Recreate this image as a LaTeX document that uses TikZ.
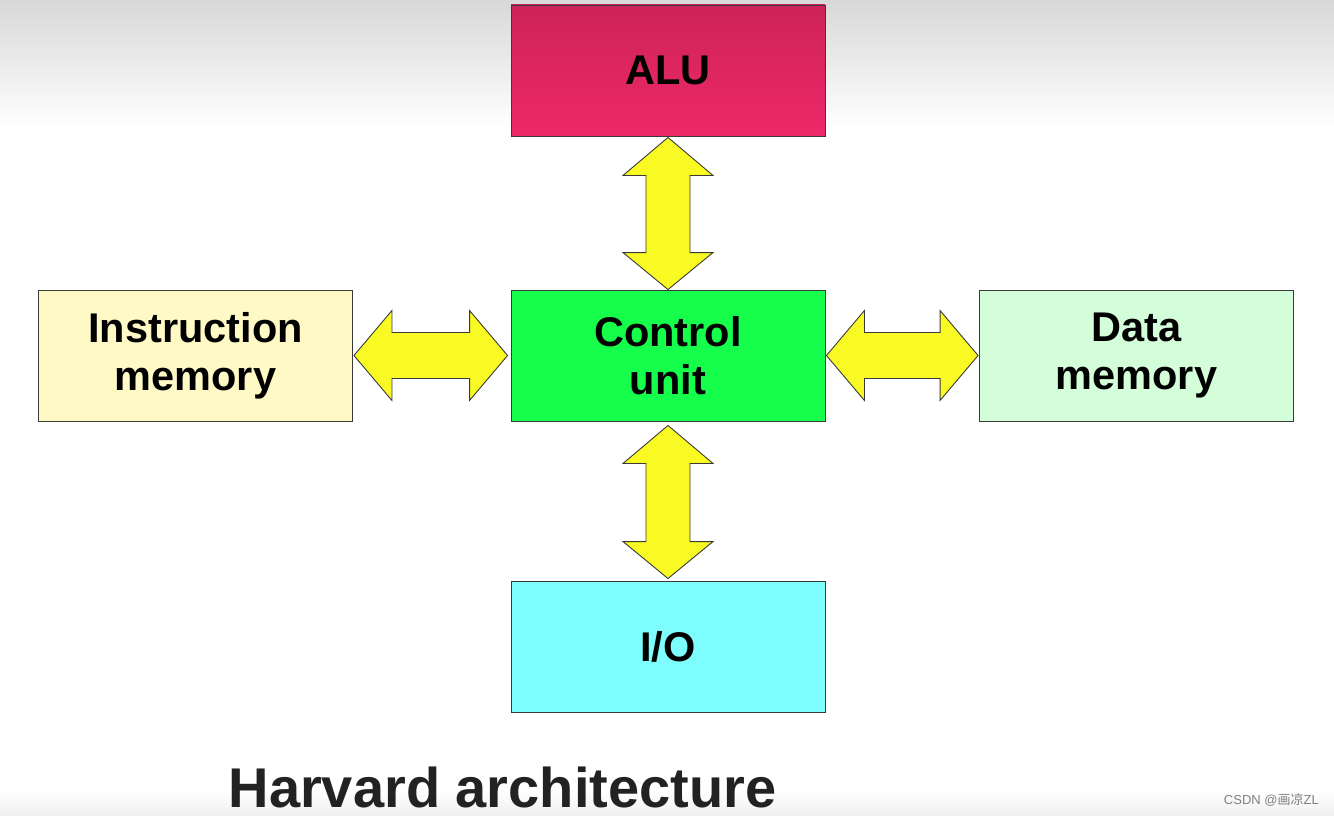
\documentclass[tikz,border=0pt]{standalone}
\usepackage{fontspec}
\setmainfont{Liberation Sans}
\newfontfamily\cjkfont{Noto Sans CJK SC}
\usetikzlibrary{calc}
\definecolor{alutop}{HTML}{CD2358}
\definecolor{alubot}{HTML}{EE2869}
\definecolor{cugreen}{HTML}{14FE4B}
\definecolor{imyellow}{HTML}{FFF9C6}
\definecolor{dmgreen}{HTML}{D4FDDA}
\definecolor{iocyan}{HTML}{7DFDFD}
\definecolor{arrowyellow}{HTML}{F9F923}
\definecolor{edge}{HTML}{3A3A3A}
\definecolor{bggray}{HTML}{D8D8D8}
\definecolor{titlegray}{HTML}{222222}
\tikzset{
  unitbox/.style={draw=edge, line width=0.9pt, minimum width=314pt, minimum height=131pt,
    inner sep=0pt, align=center, font=\fontsize{41.5}{48}\selectfont\bfseries, text=black},
  fatarrow/.style={draw=edge, line width=0.9pt, fill=arrowyellow, line join=miter},
}
\begin{document}
\begin{tikzpicture}[x=1pt,y=-1pt]
\useasboundingbox (0,0) rectangle (1334,816);
\fill[white] (0,0) rectangle (1334,816);
\shade[top color=bggray, bottom color=white] (0,0) rectangle (1334,128);
\shade[top color=white, bottom color=black!6] (0,790) rectangle (1334,816);

\node[unitbox, top color=alutop, bottom color=alubot] (alu) at (668,70.5) {ALU};
\node[unitbox, fill=cugreen] (cu) at (668,355.5) {Control\\unit};
\node[unitbox, fill=imyellow] (im) at (195.5,355.5) {Instruction\\memory};
\node[unitbox, fill=dmgreen] (dm) at (1136.5,355.5) {Data\\memory};
\node[unitbox, fill=iocyan] (io) at (668,646.5) {I/O};

% vertical arrow ALU <-> Control unit
\coordinate (a1) at ($(alu.south)+(0,1)$);
\coordinate (b1) at ($(cu.north)+(0,0)$);
\draw[fatarrow] (a1) -- ($(a1)+(45,38)$) -- ($(a1)+(22,38)$) -- ($(b1)+(22,-37)$) -- ($(b1)+(45,-37)$)
  -- (b1) -- ($(b1)+(-45,-37)$) -- ($(b1)+(-22,-37)$) -- ($(a1)+(-22,38)$) -- ($(a1)+(-45,38)$) -- cycle;

% vertical arrow Control unit <-> I/O
\coordinate (a2) at ($(cu.south)+(0,4)$);
\coordinate (b2) at ($(io.north)+(0,-2)$);
\draw[fatarrow] (a2) -- ($(a2)+(45,38)$) -- ($(a2)+(22,38)$) -- ($(b2)+(22,-37)$) -- ($(b2)+(45,-37)$)
  -- (b2) -- ($(b2)+(-45,-37)$) -- ($(b2)+(-22,-37)$) -- ($(a2)+(-22,38)$) -- ($(a2)+(-45,38)$) -- cycle;

% horizontal arrow Instruction memory <-> Control unit
\coordinate (a3) at ($(im.east)+(1,0)$);
\coordinate (b3) at ($(cu.west)+(-3,0)$);
\draw[fatarrow] (a3) -- ($(a3)+(38,-45)$) -- ($(a3)+(38,-23)$) -- ($(b3)+(-38,-23)$) -- ($(b3)+(-38,-45)$)
  -- (b3) -- ($(b3)+(-38,45)$) -- ($(b3)+(-38,23)$) -- ($(a3)+(38,23)$) -- ($(a3)+(38,45)$) -- cycle;

% horizontal arrow Control unit <-> Data memory
\coordinate (a4) at ($(cu.east)+(1,0)$);
\coordinate (b4) at ($(dm.west)+(-1,0)$);
\draw[fatarrow] (a4) -- ($(a4)+(38,-45)$) -- ($(a4)+(38,-23)$) -- ($(b4)+(-38,-23)$) -- ($(b4)+(-38,-45)$)
  -- (b4) -- ($(b4)+(-38,45)$) -- ($(b4)+(-38,23)$) -- ($(a4)+(38,23)$) -- ($(a4)+(38,45)$) -- cycle;

\node[font=\fontsize{56}{62}\selectfont\bfseries, text=titlegray, inner sep=0pt, anchor=base] (title) at (502.5,807) {Harvard architecture};
\node[font=\fontsize{13}{15}\selectfont, text=black!50, inner sep=0pt, anchor=east] (wm) at (1319,800) {CSDN @{\cjkfont 画凉}ZL};
\end{tikzpicture}
\end{document}
